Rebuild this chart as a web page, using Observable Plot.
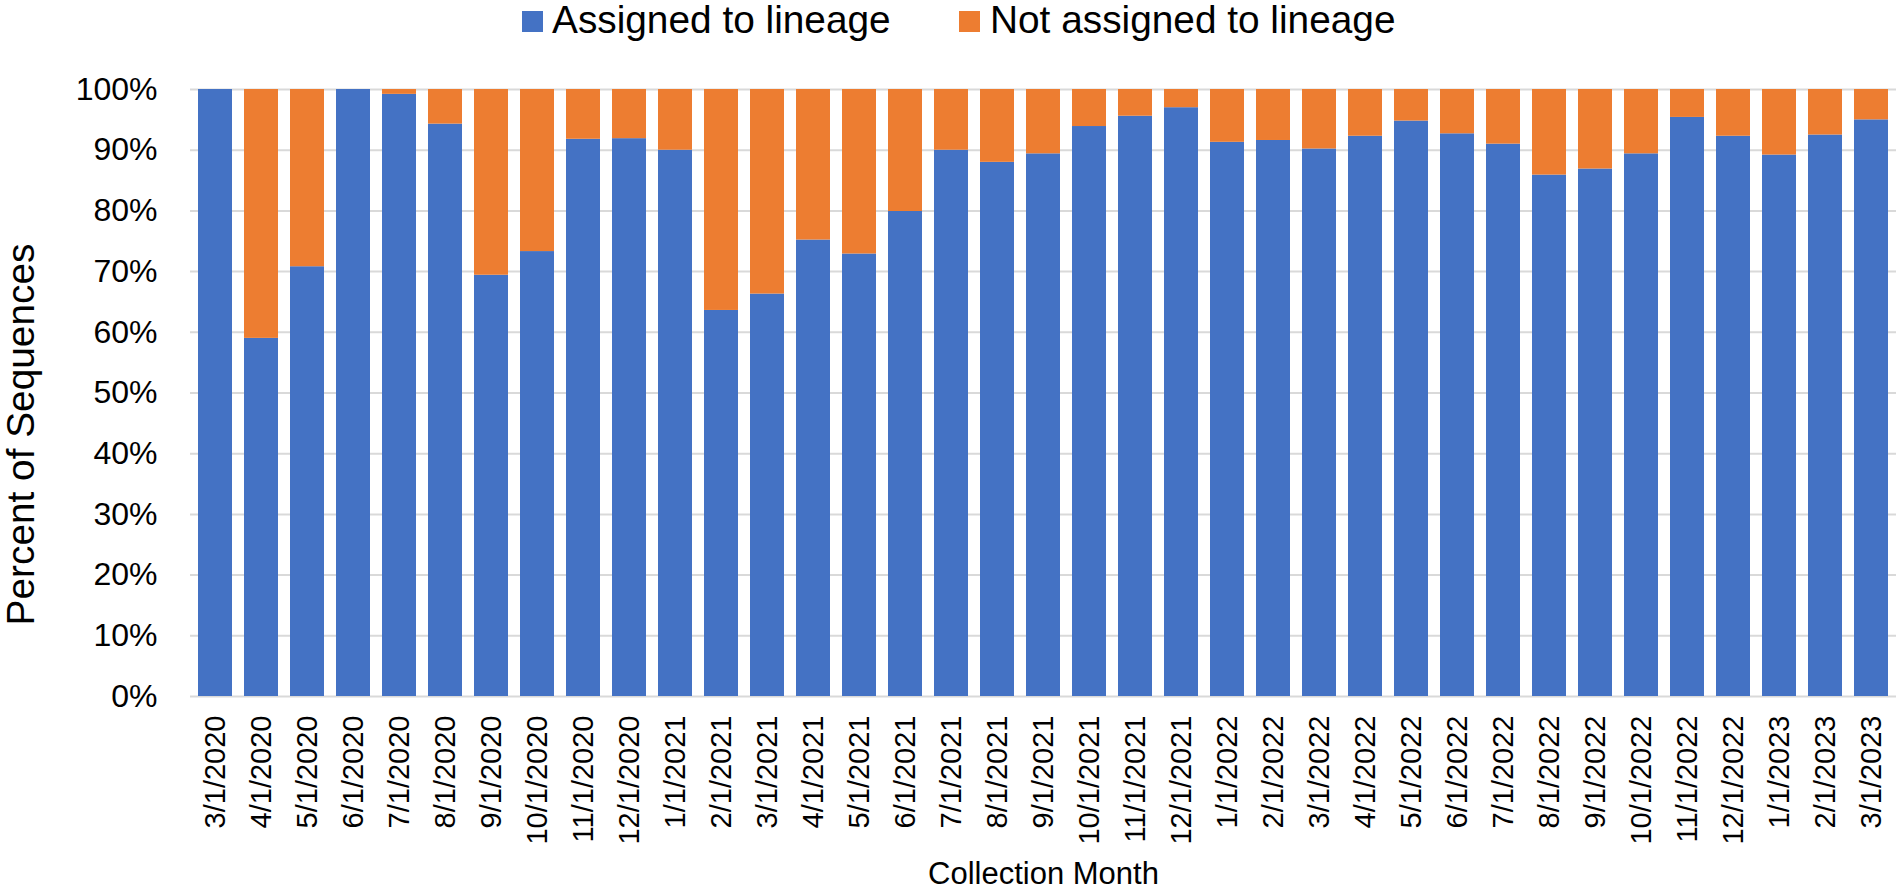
<!DOCTYPE html>
<html>
<head>
<meta charset="utf-8">
<script src="https://cdn.jsdelivr.net/npm/d3@7"></script>
<script src="https://cdn.jsdelivr.net/npm/@observablehq/plot@0.6"></script>
<style>
  html, body { margin: 0; padding: 0; background: #fff; }
  body { width: 1901px; height: 892px; overflow: hidden; font-family: "Liberation Sans", Arial, sans-serif; }
  #legend { position: relative; height: 50px; width: 1901px; }
  .sw { position: absolute; top: 11px; width: 21px; height: 21px; }
  .lt { position: absolute; top: 0.5px; font-size: 38.8px; line-height: 1; color: #000; white-space: nowrap; }
  #chart svg { display: block; }
</style>
</head>
<body>
<div id="legend">
  <div class="sw" style="left:522px;background:#4472C4"></div>
  <div class="lt" style="left:552px">Assigned to lineage</div>
  <div class="sw" style="left:959px;background:#ED7D31"></div>
  <div class="lt" style="left:990px">Not assigned to lineage</div>
</div>
<div id="chart"></div>
<script>
const months = ["3/1/2020","4/1/2020","5/1/2020","6/1/2020","7/1/2020","8/1/2020","9/1/2020","10/1/2020","11/1/2020","12/1/2020",
  "1/1/2021","2/1/2021","3/1/2021","4/1/2021","5/1/2021","6/1/2021","7/1/2021","8/1/2021","9/1/2021","10/1/2021","11/1/2021","12/1/2021",
  "1/1/2022","2/1/2022","3/1/2022","4/1/2022","5/1/2022","6/1/2022","7/1/2022","8/1/2022","9/1/2022","10/1/2022","11/1/2022","12/1/2022",
  "1/1/2023","2/1/2023","3/1/2023"];
const assigned = [100, 59.0, 70.8, 100, 99.2, 94.3, 69.4, 73.3, 91.8, 91.9,
  90.0, 63.6, 66.3, 75.2, 72.9, 79.9, 90.0, 88.0, 89.4, 93.9, 95.6, 97.0,
  91.3, 91.6, 90.2, 92.3, 94.8, 92.7, 91.0, 85.9, 86.9, 89.4, 95.4, 92.3,
  89.2, 92.5, 95.0];
const notAssigned = [0, 41.0, 29.2, 0, 0.8, 5.7, 30.6, 26.7, 8.2, 8.1,
  10.0, 36.4, 33.7, 24.8, 27.1, 20.1, 10.0, 12.0, 10.6, 6.1, 4.4, 3.0,
  8.7, 8.4, 9.8, 7.7, 5.2, 7.3, 9.0, 14.1, 13.1, 10.6, 4.6, 7.7,
  10.8, 7.5, 5.0];
const seriesNames = ["Assigned to lineage", "Not assigned to lineage"];
const seriesColors = ["#4472C4", "#ED7D31"];
const yTicks = [0, 10, 20, 30, 40, 50, 60, 70, 80, 90, 100];
const yTitle = "Percent of Sequences";
const xTitle = "Collection Month";

const rows = [];
months.forEach((m, i) => {
  rows.push({month: m, series: seriesNames[0], value: assigned[i]});
  rows.push({month: m, series: seriesNames[1], value: notAssigned[i]});
});

const chart = Plot.plot({
  width: 1901,
  height: 842,
  marginTop: 39,
  marginBottom: 196,
  marginLeft: 190,
  marginRight: 5,
  style: {fontFamily: '"Liberation Sans", Arial, sans-serif', background: "#fff", color: "#000"},
  x: {type: "band", domain: months, paddingInner: 0.27, paddingOuter: 0.135, axis: null},
  y: {domain: [0, 100], axis: null},
  color: {domain: seriesNames, range: seriesColors},
  marks: [
    Plot.ruleY(yTicks, {stroke: "#D9D9D9", strokeWidth: 2}),
    Plot.barY(rows, {x: "month", y: "value", fill: "series"}),
    Plot.axisY(yTicks, {tickSize: 0, tickPadding: 33, fontSize: 32, tickFormat: d => d + "%", label: null, fill: "#000"}),
    Plot.axisX({tickSize: 0, tickPadding: 19, tickRotate: -90, fontSize: 29, label: null, fill: "#000"}),
    Plot.text([yTitle], {text: d => d, frameAnchor: "left", textAnchor: "middle", lineAnchor: "middle", rotate: -90, dx: -169, dy: 41.5, fontSize: 38.8, fill: "#000"}),
    Plot.text([xTitle], {text: d => d, frameAnchor: "bottom", textAnchor: "middle", lineAnchor: "middle", dy: 178, fontSize: 31, fill: "#000"})
  ]
});
document.getElementById("chart").appendChild(chart);
</script>
</body>
</html>
